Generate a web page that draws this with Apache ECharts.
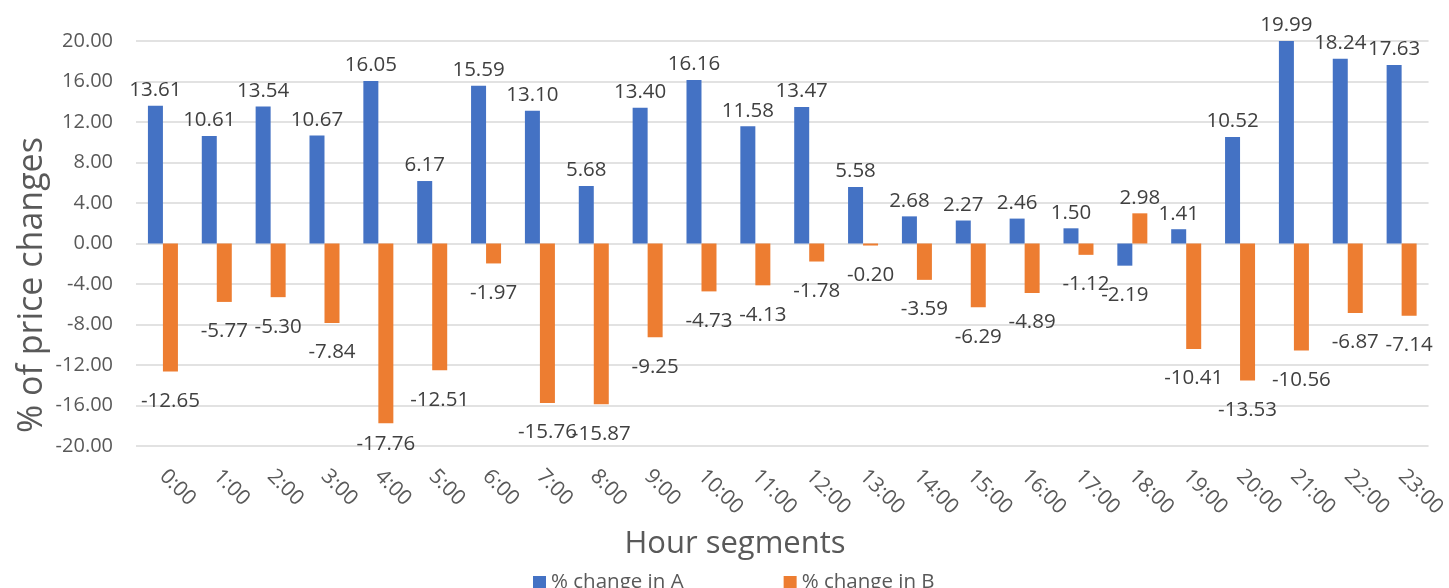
<!DOCTYPE html>
<html>
<head>
<meta charset="utf-8">
<script src="https://cdn.jsdelivr.net/npm/echarts@6/dist/echarts.min.js"></script>
<style>
  html, body { margin: 0; padding: 0; background: #ffffff; }
  #chart { width: 1449px; height: 588px; }
</style>
</head>
<body>
<div id="chart"></div>
<script>
// Hour segments on the category axis
const hours = ['0:00', '1:00', '2:00', '3:00', '4:00', '5:00', '6:00', '7:00', '8:00', '9:00',
  '10:00', '11:00', '12:00', '13:00', '14:00', '15:00', '16:00', '17:00', '18:00', '19:00',
  '20:00', '21:00', '22:00', '23:00'];

// % change in A per hour
const changeA = [13.61, 10.61, 13.54, 10.67, 16.05, 6.17, 15.59, 13.10, 5.68, 13.40,
  16.16, 11.58, 13.47, 5.58, 2.68, 2.27, 2.46, 1.50, -2.19, 1.41,
  10.52, 19.99, 18.24, 17.63];

// % change in B per hour
const changeB = [-12.65, -5.77, -5.30, -7.84, -17.76, -12.51, -1.97, -15.76, -15.87, -9.25,
  -4.73, -4.13, -1.78, -0.20, -3.59, -6.29, -4.89, -1.12, 2.98, -10.41,
  -13.53, -10.56, -6.87, -7.14];

const seriesNames = ['% change in A', '% change in B'];
const yTicks = { min: -20, max: 20, step: 4 };

const FONT = '"Open Sans", "Noto Sans", sans-serif';
const GRID = { left: 136, right: 19, top: 41, bottom: 142 };
const CHART_H = 588;
const PLOT_BOTTOM = CHART_H - GRID.bottom;

// Labels sit outside the bar end: above positive bars, further below negative ones
function withLabels(values) {
  return values.map(v => ({
    value: v,
    label: v >= 0 ? { position: 'top', distance: 5 } : { position: 'bottom', distance: 19 }
  }));
}

const barLabel = {
  show: true,
  color: '#404040',
  fontFamily: FONT,
  fontSize: 20.5,
  formatter: p => p.value.toFixed(2)
};

// Keep labels below long negative bars from running past the plot floor
function keepInPlot(params) {
  const r = params.labelRect;
  const centerY = r.y + r.height / 2;
  const limit = PLOT_BOTTOM - 2;
  return centerY > limit ? { dy: limit - centerY } : {};
}

const chart = echarts.init(document.getElementById('chart'), null, { renderer: 'canvas' });

chart.setOption({
  animation: false,
  backgroundColor: '#ffffff',
  grid: Object.assign({ containLabel: false }, GRID),
  xAxis: {
    type: 'category',
    data: hours,
    axisLine: { show: false, onZero: false },
    axisTick: { show: false },
    axisLabel: {
      rotate: -45,
      margin: 27,
      color: '#595959',
      fontFamily: FONT,
      fontSize: 21,
      interval: 0
    },
    splitLine: { show: false }
  },
  yAxis: {
    type: 'value',
    min: yTicks.min,
    max: yTicks.max,
    interval: yTicks.step,
    axisLine: { show: false },
    axisTick: { show: false },
    axisLabel: {
      margin: 23,
      color: '#595959',
      fontFamily: FONT,
      fontSize: 20,
      formatter: v => v.toFixed(2)
    },
    splitLine: { lineStyle: { color: '#d9d9d9', width: 1.5 } }
  },
  legend: {
    data: seriesNames,
    left: 528,
    top: 567,
    icon: 'rect',
    itemWidth: 13,
    itemHeight: 13,
    itemGap: 100,
    textStyle: { color: '#595959', fontFamily: FONT, fontSize: 20.5 }
  },
  graphic: [
    {
      type: 'text',
      x: 32,
      y: 285,
      rotation: Math.PI / 2,
      style: {
        text: '% of price changes',
        fill: '#595959',
        font: '34px ' + FONT,
        align: 'center',
        verticalAlign: 'middle'
      }
    },
    {
      type: 'text',
      x: 735,
      y: 544,
      style: {
        text: 'Hour segments',
        fill: '#595959',
        font: '31px ' + FONT,
        align: 'center',
        verticalAlign: 'middle'
      }
    }
  ],
  series: [
    {
      name: seriesNames[0],
      type: 'bar',
      data: withLabels(changeA),
      barWidth: 15,
      barGap: '0%',
      itemStyle: { color: '#4472C4' },
      label: barLabel,
      labelLayout: keepInPlot
    },
    {
      name: seriesNames[1],
      type: 'bar',
      data: withLabels(changeB),
      barWidth: 15,
      barGap: '0%',
      itemStyle: { color: '#ED7D31' },
      label: barLabel,
      labelLayout: keepInPlot
    }
  ]
});
</script>
</body>
</html>
